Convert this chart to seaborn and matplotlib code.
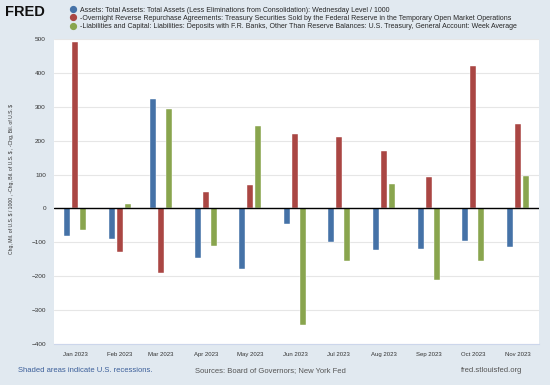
import matplotlib
matplotlib.use("Agg")
import matplotlib.pyplot as plt
import matplotlib.dates as mdates
from matplotlib.lines import Line2D
import numpy as np
import pandas as pd
import seaborn as sns

# monthly changes
months = ["2023-01-01", "2023-02-01", "2023-03-01", "2023-04-01", "2023-05-01", "2023-06-01",
          "2023-07-01", "2023-08-01", "2023-09-01", "2023-10-01", "2023-11-01"]
total_assets = [-81, -90, 324, -145, -180, -45, -99, -123, -119, -96, -114]
reverse_repo = [492, -128, -190, 48, 70, 220, 211, 169, 93, 420, 249]
treasury_ga = [-65, 14, 293, -110, 243, -344, -154, 72, -211, -154, 96]

series_labels = [
    "Assets: Total Assets: Total Assets (Less Eliminations from Consolidation): Wednesday Level / 1000",
    "-Overnight Reverse Repurchase Agreements: Treasury Securities Sold by the Federal Reserve in the Temporary Open Market Operations",
    "-Liabilities and Capital: Liabilities: Deposits with F.R. Banks, Other Than Reserve Balances: U.S. Treasury, General Account: Week Average",
]
colors = ["#4572A7", "#AA4643", "#89A54E"]

dates = pd.to_datetime(months)
wide = pd.DataFrame({
    "date": mdates.date2num(dates),
    series_labels[0]: total_assets,
    series_labels[1]: reverse_repo,
    series_labels[2]: treasury_ga,
})
df = wide.melt(id_vars="date", var_name="series", value_name="value")

bg = "#E1E9F0"
sns.set_style("white")
plt.rcParams['font.family'] = ['Liberation Sans', 'DejaVu Sans']

fig = plt.figure(figsize=(5.5, 3.85), dpi=100, facecolor=bg)
W, H = 550, 385
ax = fig.add_axes([54 / W, 1 - 344 / H, (539 - 54) / W, (344 - 39) / H])
ax.set_facecolor("white")

sns.barplot(data=df, x="date", y="value", hue="series", hue_order=series_labels,
            palette=colors, native_scale=True, width=0.59, gap=0.25,
            edgecolor="white", linewidth=0.3, saturation=1, legend=False, ax=ax)

# axis cosmetics
pad_days = 14.4
ax.set_xlim(mdates.date2num(dates[0]) - pad_days, mdates.date2num(dates[-1]) + pad_days)
ax.set_ylim(-400, 500)
ax.set_yticks(np.arange(-400, 501, 100))
ax.xaxis.set_major_locator(mdates.MonthLocator())
ax.xaxis.set_major_formatter(mdates.DateFormatter("%b %Y"))
ax.set_xlabel("")
ax.set_ylabel("")
ax.grid(axis="y", color="#E6E6E6", linewidth=0.8)
ax.set_axisbelow(True)
ax.axhline(0, color="black", linewidth=1)
for side in ["top", "right", "left"]:
    ax.spines[side].set_visible(False)
ax.spines["bottom"].set_color("#CCD6EB")
ax.tick_params(axis="x", length=3, color="#CCD6EB", labelsize=4.3, labelcolor="#333333", pad=3)
ax.tick_params(axis="y", length=0, labelsize=4.6, labelcolor="#333333", pad=5.8)

# y label
fig.text(12 / W, 1 - 179 / H,
         "Chg, Mil. of U.S. $ / 1000 , -Chg, Bil. of U.S. $ , -Chg, Bil. of U.S. $",
         rotation=90, ha="center", va="center", fontsize=3.7, color="#333333")

# header: logo text and legend
fig.text(5 / W, 1 - 12 / H, "FRED", fontsize=10.5, fontweight="heavy", color="#111111",
         ha="left", va="center")
handles = [Line2D([], [], marker="o", linestyle="", markersize=4.2, color=c) for c in colors]
fig.legend(handles, series_labels, loc="upper left", bbox_to_anchor=(69.5 / W, 1 - 6.5 / H),
           frameon=False, fontsize=5.0, handletextpad=0.45, labelspacing=0.18,
           borderpad=0, handlelength=1.0, borderaxespad=0)

# footer
fig.text(18 / W, 1 - 371 / H, "Shaded areas indicate U.S. recessions.", fontsize=5.5,
         color="#3C5F9A", ha="left", va="center")
fig.text(195 / W, 1 - 371 / H, "Sources: Board of Governors; New York Fed", fontsize=5.5,
         color="#555555", ha="left", va="center")
fig.text(461 / W, 1 - 371 / H, "fred.stlouisfed.org", fontsize=5.5,
         color="#555555", ha="left", va="center")

fig.savefig("out.png", dpi=100, facecolor=bg)
